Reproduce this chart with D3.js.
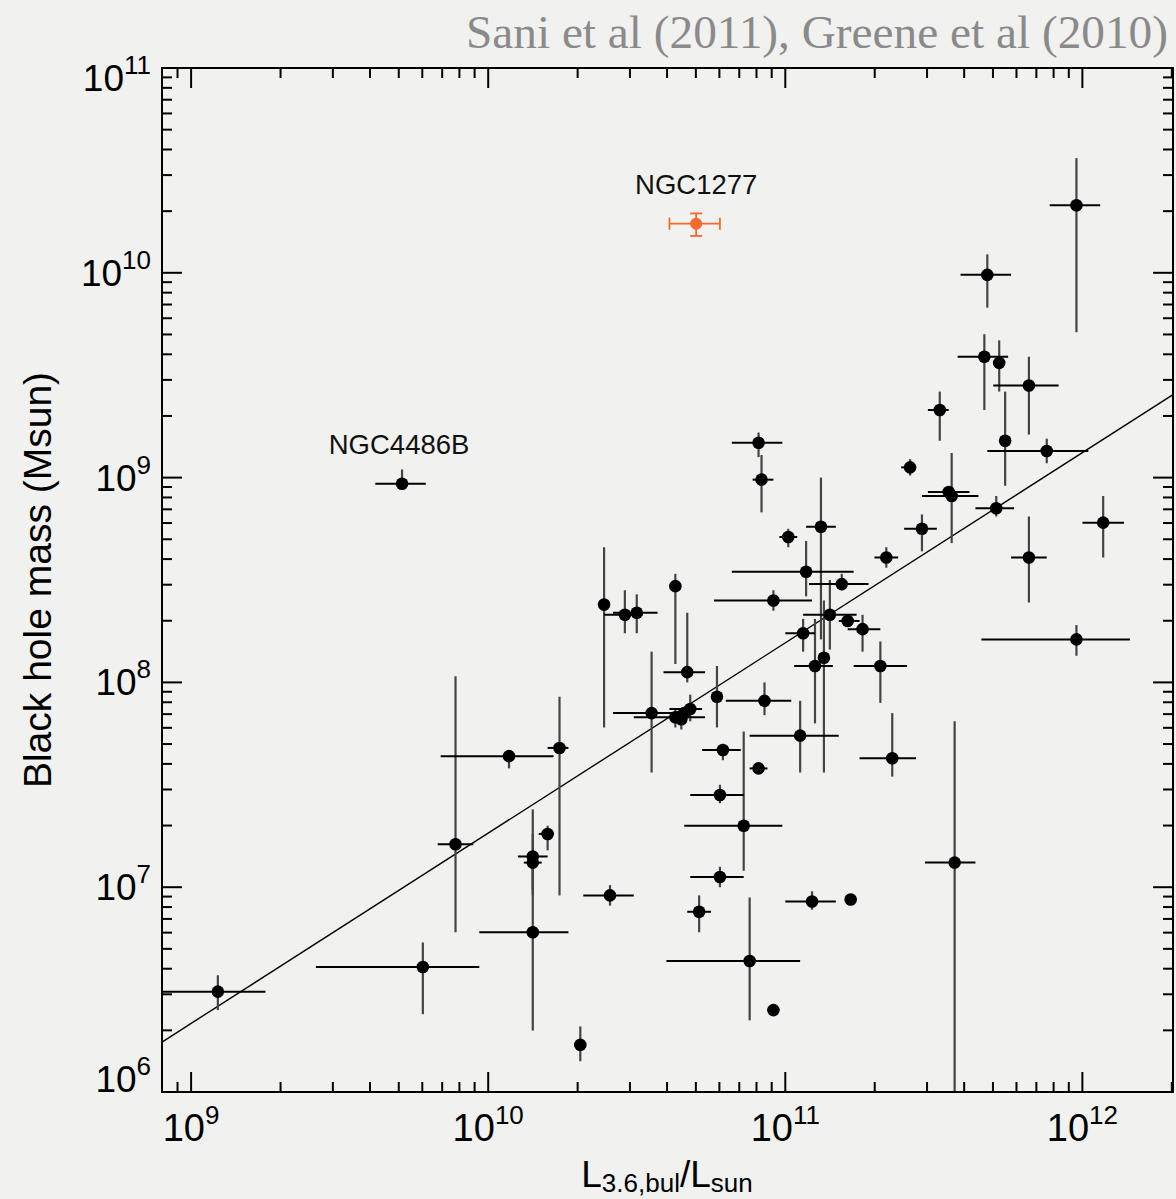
<!DOCTYPE html>
<html>
<head>
<meta charset="utf-8">
<script src="https://cdn.jsdelivr.net/npm/d3@7"></script>
<style>
  html, body { margin: 0; padding: 0; background: #f1f1f0; }
  svg { display: block; }
  text { font-family: "Liberation Sans", Arial, Helvetica, sans-serif; }
</style>
</head>
<body>
<svg id="chart" width="1176" height="1199"></svg>
<script>
/* Black hole mass vs 3.6um bulge luminosity, log10 values.
   Error bars are stored as their log10 end points (lo == hi means no bar). */

var logL   = [11.98, 11.68, 11.67, 11.72, 11.82, 11.52, 11.74, 11.88, 11.42, 11.55, 11.56, 11.71, 11.46, 11.34, 11.82, 12.07, 11.98, 11.57, 11.36, 11.32, 11.26, 11.21, 11.15, 11.13, 11.10, 11.06, 11.05, 11.09, 11.22, 10.91, 10.92, 11.12, 11.01, 11.07, 11.19, 10.96, 10.39, 10.46, 10.50, 10.63, 10.67, 10.55, 10.63, 10.65, 10.68, 10.66, 10.77, 10.93, 10.79, 10.91, 10.78, 10.86, 10.78, 10.71, 10.88, 10.96, 10.31, 10.41, 10.15, 10.15, 10.15, 10.20, 10.24, 10.07, 9.89, 9.78, 9.09, 9.71];
var logM   = [10.33, 9.99, 9.59, 9.56, 9.45, 9.33, 9.18, 9.13, 9.05, 8.93, 8.91, 8.85, 8.75, 8.61, 8.61, 8.78, 8.21, 7.12, 7.63, 8.08, 8.26, 8.30, 8.33, 8.12, 8.08, 8.24, 7.74, 6.93, 6.94, 9.17, 8.99, 8.76, 8.71, 8.54, 8.48, 8.40, 8.38, 8.33, 8.34, 8.47, 8.05, 7.85, 7.83, 7.82, 7.87, 7.85, 7.93, 7.91, 7.67, 7.58, 7.45, 7.30, 7.05, 6.88, 6.64, 6.40, 6.23, 6.96, 6.78, 7.15, 7.12, 7.26, 7.68, 7.64, 7.21, 6.61, 6.49, 8.97];
var logLlo = [11.89, 11.59, 11.58, 11.72, 11.70, 11.48, 11.74, 11.68, 11.39, 11.48, 11.46, 11.64, 11.40, 11.30, 11.76, 12.00, 11.66, 11.47, 11.25, 11.23, 11.21, 11.18, 11.06, 11.13, 11.03, 11.00, 10.88, 11.00, 11.22, 10.82, 10.89, 11.07, 10.98, 10.82, 11.08, 10.76, 10.37, 10.39, 10.42, 10.63, 10.59, 10.42, 10.49, 10.65, 10.61, 10.66, 10.75, 10.80, 10.72, 10.88, 10.68, 10.66, 10.68, 10.67, 10.60, 10.94, 10.31, 10.32, 9.97, 10.10, 10.12, 10.17, 10.20, 9.84, 9.83, 9.42, 8.85, 9.62];
var logLhi = [12.06, 11.76, 11.75, 11.72, 11.92, 11.55, 11.74, 12.02, 11.44, 11.62, 11.65, 11.77, 11.51, 11.38, 11.88, 12.14, 12.16, 11.64, 11.44, 11.41, 11.32, 11.25, 11.24, 11.13, 11.16, 11.10, 11.18, 11.17, 11.22, 10.99, 10.96, 11.17, 11.04, 11.23, 11.28, 11.09, 10.41, 10.52, 10.57, 10.63, 10.73, 10.67, 10.73, 10.65, 10.72, 10.66, 10.79, 11.02, 10.85, 10.94, 10.86, 10.99, 10.86, 10.75, 11.05, 10.98, 10.31, 10.49, 10.27, 10.20, 10.18, 10.22, 10.27, 10.22, 9.95, 9.97, 9.25, 9.79];
var logMlo = [9.71, 9.83, 9.33, 9.42, 9.21, 9.18, 8.96, 9.07, 9.01, 8.90, 8.68, 8.81, 8.64, 8.56, 8.39, 8.61, 8.13, 5.50, 7.54, 7.90, 8.15, 8.28, 8.16, 7.56, 7.80, 8.15, 7.56, 6.89, 6.94, 9.10, 8.83, 8.21, 8.66, 8.42, 8.45, 8.35, 7.78, 8.24, 8.24, 8.09, 8.00, 7.56, 7.78, 7.77, 7.81, 7.85, 7.78, 7.84, 7.62, 7.56, 7.41, 7.08, 7.00, 6.78, 6.35, 6.38, 6.15, 6.91, 6.30, 6.96, 6.99, 7.18, 6.96, 7.58, 6.78, 6.38, 6.40, 8.94];
var logMhi = [10.56, 10.09, 9.70, 9.67, 9.59, 9.42, 9.42, 9.19, 9.09, 8.95, 9.12, 8.91, 8.82, 8.66, 8.81, 8.91, 8.28, 7.81, 7.85, 8.20, 8.33, 8.32, 8.50, 8.40, 8.31, 8.31, 7.91, 6.98, 6.94, 9.22, 9.11, 9.00, 8.75, 8.69, 8.53, 8.45, 8.66, 8.45, 8.43, 8.53, 8.34, 8.15, 7.87, 7.87, 7.94, 7.85, 8.08, 8.00, 7.70, 7.60, 7.50, 7.76, 7.10, 6.96, 6.95, 6.42, 6.32, 7.01, 7.13, 7.38, 7.26, 7.30, 7.93, 7.67, 8.03, 6.73, 6.57, 9.04];

// NGC1277, drawn on its own in orange
var ngcLogL = [10.70], ngcLogM = [10.24];
var ngcLogLlo = [10.61], ngcLogLhi = [10.78];
var ngcLogMlo = [10.18], ngcLogMhi = [10.29];

// annotated galaxies
var labelText = ["NGC4486B", "NGC1277"];
var labelLogL = [9.70, 10.70];
var labelLogM = [8.97, 10.24];

// fitted relation: log M = a + b (log L - 10)
var fitA = 7.264, fitB = 0.929;

var xTickExp = [9, 10, 11, 12];
var yTickExp = [6, 7, 8, 9, 10, 11];

var pw = function (v) { return Math.pow(10, v); };
var svg = d3.select("#chart");
var m = { left: 162, top: 68, right: 1173, bottom: 1092 };

var x = d3.scaleLog().domain([pw(8.902), pw(12.305)]).range([m.left, m.right]);
var y = d3.scaleLog().domain([1e6, 1e11]).range([m.bottom, m.top]);

svg.append("defs").append("clipPath").attr("id", "plotclip")
  .append("rect").attr("x", m.left).attr("y", m.top)
  .attr("width", m.right - m.left).attr("height", m.bottom - m.top);

var plot = svg.append("g").attr("clip-path", "url(#plotclip)");

// fit line
var ld = x.domain();
plot.append("line")
  .attr("x1", x(ld[0])).attr("y1", y(pw(fitA + fitB * (Math.log10(ld[0]) - 10))))
  .attr("x2", x(ld[1])).attr("y2", y(pw(fitA + fitB * (Math.log10(ld[1]) - 10))))
  .attr("stroke", "#000").attr("stroke-width", 1.4);

var idx = d3.range(logL.length);

// vertical bars (slightly grey), then horizontal ones
plot.selectAll(".vbar").data(idx.filter(function (i) { return logMhi[i] > logMlo[i]; }))
  .enter().append("line")
  .attr("x1", function (i) { return x(pw(logL[i])); })
  .attr("x2", function (i) { return x(pw(logL[i])); })
  .attr("y1", function (i) { return y(pw(logMlo[i])); })
  .attr("y2", function (i) { return y(pw(logMhi[i])); })
  .attr("stroke", "#444").attr("stroke-width", 2.2);

plot.selectAll(".hbar").data(idx.filter(function (i) { return logLhi[i] > logLlo[i]; }))
  .enter().append("line")
  .attr("x1", function (i) { return x(pw(logLlo[i])); })
  .attr("x2", function (i) { return x(pw(logLhi[i])); })
  .attr("y1", function (i) { return y(pw(logM[i])); })
  .attr("y2", function (i) { return y(pw(logM[i])); })
  .attr("stroke", "#000").attr("stroke-width", 2);

plot.selectAll(".dot").data(idx).enter().append("circle")
  .attr("cx", function (i) { return x(pw(logL[i])); })
  .attr("cy", function (i) { return y(pw(logM[i])); })
  .attr("r", 6.3).attr("fill", "#000");

// NGC1277 with capped bars
var orange = "#f26a2c";
ngcLogL.forEach(function (v, i) {
  var cx = x(pw(v)), cy = y(pw(ngcLogM[i]));
  var xa = x(pw(ngcLogLlo[i])), xb = x(pw(ngcLogLhi[i]));
  var ya = y(pw(ngcLogMlo[i])), yb = y(pw(ngcLogMhi[i]));
  var g = plot.append("g").attr("stroke", orange).attr("stroke-width", 1.8);
  g.append("line").attr("x1", xa).attr("x2", xb).attr("y1", cy).attr("y2", cy);
  g.append("line").attr("x1", cx).attr("x2", cx).attr("y1", ya).attr("y2", yb);
  g.append("line").attr("x1", xa).attr("x2", xa).attr("y1", cy - 6).attr("y2", cy + 6);
  g.append("line").attr("x1", xb).attr("x2", xb).attr("y1", cy - 6).attr("y2", cy + 6);
  g.append("line").attr("x1", cx - 6).attr("x2", cx + 6).attr("y1", ya).attr("y2", ya);
  g.append("line").attr("x1", cx - 6).attr("x2", cx + 6).attr("y1", yb).attr("y2", yb);
  plot.append("circle").attr("cx", cx).attr("cy", cy).attr("r", 6).attr("fill", orange);
});

labelText.forEach(function (t, i) {
  svg.append("text")
    .attr("x", x(pw(labelLogL[i]))).attr("y", y(pw(labelLogM[i])) - 30)
    .attr("text-anchor", "middle").attr("font-size", 27.5).attr("fill", "#111")
    .text(t);
});

// frame and ticks on all four sides
svg.append("rect").attr("x", m.left).attr("y", m.top)
  .attr("width", m.right - m.left).attr("height", m.bottom - m.top)
  .attr("fill", "none").attr("stroke", "#000").attr("stroke-width", 2);

var isMajor = function (t) { var l = Math.log10(t); return Math.abs(l - Math.round(l)) < 1e-6; };
var ticks = svg.append("g").attr("stroke", "#000").attr("stroke-width", 2);

x.ticks().forEach(function (t) {
  var px = x(t), len = isMajor(t) ? 20 : 10;
  if (px < m.left + 1 || px > m.right - 1) return;
  ticks.append("line").attr("x1", px).attr("x2", px).attr("y1", m.bottom).attr("y2", m.bottom - len);
  ticks.append("line").attr("x1", px).attr("x2", px).attr("y1", m.top).attr("y2", m.top + len);
});
y.ticks().forEach(function (t) {
  var py = y(t), len = isMajor(t) ? 20 : 10;
  ticks.append("line").attr("y1", py).attr("y2", py).attr("x1", m.left).attr("x2", m.left + len);
  ticks.append("line").attr("y1", py).attr("y2", py).attr("x1", m.right).attr("x2", m.right - len);
});

// tick labels 10^n
function powLabel(sel, e) {
  sel.append("tspan").text("10");
  sel.append("tspan").attr("dy", -17).attr("font-size", 26).text(e);
}
xTickExp.forEach(function (e) {
  var t = svg.append("text").attr("x", x(pw(e))).attr("y", 1141)
    .attr("text-anchor", "middle").attr("font-size", 38).attr("fill", "#000");
  powLabel(t, e);
});
yTickExp.forEach(function (e) {
  var by = Math.min(Math.max(y(pw(e)) + 13, m.top + 23), m.bottom);
  var t = svg.append("text").attr("x", 151).attr("y", by)
    .attr("text-anchor", "end").attr("font-size", 37).attr("fill", "#000");
  powLabel(t, e);
});

// axis titles
var xt = svg.append("text").attr("x", 667).attr("y", 1187)
  .attr("text-anchor", "middle").attr("font-size", 37).attr("fill", "#000");
xt.append("tspan").text("L");
xt.append("tspan").attr("dy", 5).attr("font-size", 26).text("3.6,bul");
xt.append("tspan").attr("dy", -5).text("/L");
xt.append("tspan").attr("dy", 5).attr("font-size", 26).text("sun");

svg.append("text").attr("transform", "translate(51,580) rotate(-90)")
  .attr("text-anchor", "middle").attr("font-size", 39).attr("fill", "#000")
  .text("Black hole mass (Msun)");

svg.append("text").attr("x", 1168).attr("y", 48)
  .attr("text-anchor", "end").attr("font-size", 46).attr("fill", "#8a8a8a")
  .attr("textLength", 702).attr("lengthAdjust", "spacingAndGlyphs")
  .style("font-family", "'Liberation Serif', 'DejaVu Serif', serif")
  .text("Sani et al (2011), Greene et al (2010)");
</script>
</body>
</html>
